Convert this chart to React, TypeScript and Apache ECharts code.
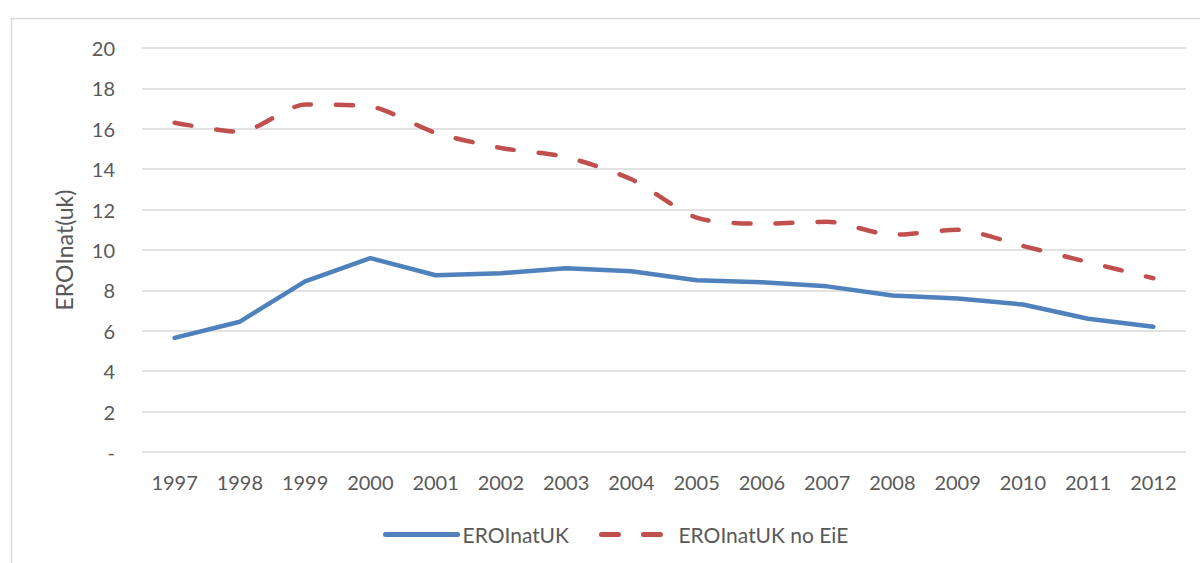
import React, { useEffect, useRef } from "react";
import * as echarts from "echarts";

const years = ["1997","1998","1999","2000","2001","2002","2003","2004","2005","2006","2007","2008","2009","2010","2011","2012"];
const eroiUK = [5.65, 6.45, 8.45, 9.6, 8.75, 8.85, 9.1, 8.95, 8.5, 8.4, 8.2, 7.75, 7.6, 7.3, 6.6, 6.2];
const eroiUKnoEiE = [16.3, 15.85, 17.2, 17.1, 15.8, 15.05, 14.6, 13.5, 11.6, 11.3, 11.4, 10.75, 11.0, 10.2, 9.4, 8.6];

const FONT = "Lato, 'Liberation Sans', sans-serif";
const TEXT = "#595959";

export default function App() {
  const ref = useRef<HTMLDivElement>(null);
  useEffect(() => {
    if (!ref.current) return;
    const chart = echarts.init(ref.current, null, { renderer: "svg" });
    chart.setOption({
      animation: false,
      backgroundColor: "#ffffff",
      textStyle: { fontFamily: FONT },
      graphic: [
        {
          type: "rect",
          shape: { x: 11.5, y: 18.5, width: 1200, height: 600 },
          style: { fill: "none", stroke: "#d9d9d9", lineWidth: 1.5 },
          silent: true,
        },
      ],
      grid: { left: 142, right: 14, top: 48, bottom: 111, containLabel: false },
      legend: {
        top: 519,
        left: 378,
        itemWidth: 72,
        itemHeight: 24,
        itemGap: 30,
        itemStyle: { opacity: 0 },
        textStyle: { fontFamily: FONT, fontSize: 21, color: TEXT },
        lineStyle: { width: 5, cap: "round" },
        data: ["EROInatUK", "EROInatUK no EiE"],
      },
      xAxis: {
        type: "category",
        data: years,
        boundaryGap: true,
        axisLine: { show: false },
        axisTick: { show: false },
        axisLabel: { fontFamily: FONT, fontSize: 20, color: TEXT, margin: 20 },
      },
      yAxis: {
        type: "value",
        min: 0,
        max: 20,
        interval: 2,
        name: "EROInat(uk)",
        nameLocation: "middle",
        nameGap: 67,
        nameRotate: 90,
        nameTextStyle: { fontFamily: FONT, fontSize: 23, color: TEXT },
        axisLine: { show: false },
        axisTick: { show: false },
        splitLine: { lineStyle: { color: "#d9d9d9", width: 1.5 } },
        axisLabel: {
          fontFamily: FONT,
          fontSize: 20,
          color: TEXT,
          margin: 27,
          formatter: (v: number) => (v === 0 ? "-" : String(v)),
        },
      },
      series: [
        {
          name: "EROInatUK",
          type: "line",
          data: eroiUK,
          showSymbol: false,
          symbol: "none",
          color: "#4F81BD",
          lineStyle: { color: "#4F81BD", width: 4.5, cap: "round", join: "round" },
        },
        {
          name: "EROInatUK no EiE",
          type: "line",
          data: eroiUKnoEiE,
          showSymbol: false,
          symbol: "none",
          smooth: 0.25,
          color: "#C0504D",
          lineStyle: { color: "#C0504D", width: 4.5, type: [17, 25], cap: "round" },
        },
      ],
    });
    return () => chart.dispose();
  }, []);
  return (
    <div
      ref={ref}
      style={{ position: "absolute", left: 0, top: 0, width: 1200, height: 563 }}
    />
  );
}
